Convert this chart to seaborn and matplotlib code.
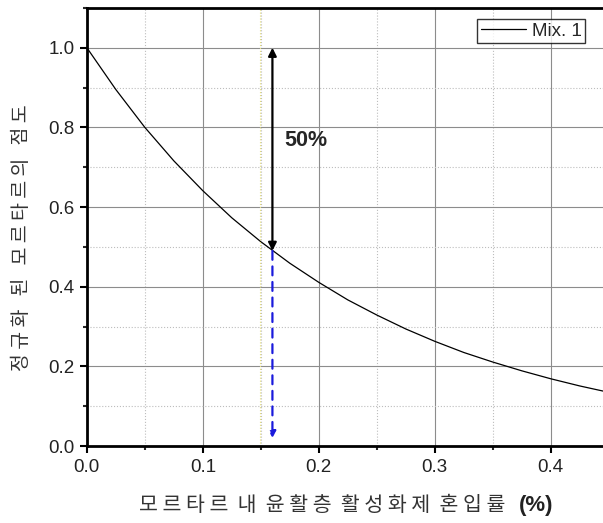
import numpy as np
import pandas as pd
import seaborn as sns
import matplotlib.pyplot as plt
from matplotlib.ticker import MultipleLocator

# values
x_vals = [0.0, 0.025, 0.05, 0.075, 0.1, 0.125, 0.15, 0.175, 0.2, 0.225,
          0.25, 0.275, 0.3, 0.325, 0.35, 0.375, 0.4, 0.425, 0.45]
y_vals = [1.0, 0.895, 0.80, 0.716, 0.641, 0.573, 0.513, 0.459, 0.411, 0.367,
          0.329, 0.294, 0.263, 0.235, 0.211, 0.189, 0.169, 0.151, 0.135]
series_name = "Mix. 1"

mark_x = 0.16
mark_top = 1.0
mark_mid = 0.49
mark_bottom = 0.02
mark_label = "50%"

x_label = "모 르 타 르  내  윤 활 층  활 성 화 제  혼 입 률"
y_label = "정 규 화   된   모 르 타 르 의   점 도"

df = pd.DataFrame({"x": x_vals, "y": y_vals, "series": series_name})

sns.set_style("white")
plt.rcParams["font.family"] = ["Noto Sans CJK KR", "DejaVu Sans"]
num_font = ["Liberation Sans", "DejaVu Sans"]

fig = plt.figure(figsize=(6.03, 5.23), dpi=100)
ax = fig.add_axes([0.144, 0.147, 0.856, 0.838])

sns.lineplot(data=df, x="x", y="y", hue="series", palette=["black"],
             linewidth=0.9, ax=ax)

ax.set_xlim(0, 0.445)
ax.set_ylim(0, 1.1)
ax.xaxis.set_major_locator(MultipleLocator(0.1))
ax.xaxis.set_minor_locator(MultipleLocator(0.05))
ax.yaxis.set_major_locator(MultipleLocator(0.2))
ax.yaxis.set_minor_locator(MultipleLocator(0.1))
ax.grid(which="major", color="#8c8c8c", linewidth=0.8)
ax.grid(which="minor", color="#bdbdbd", linewidth=0.8, linestyle=":")
ax.set_axisbelow(True)

for s in ["left", "bottom", "top"]:
    ax.spines[s].set_linewidth(2)
    ax.spines[s].set_color("black")
ax.spines["right"].set_visible(False)
ax.tick_params(which="major", direction="out", length=5, width=1.5,
               labelsize=13.5, pad=4, colors="black", left=True, bottom=True)
ax.tick_params(which="minor", direction="out", length=3, width=1.5,
               left=True, bottom=True)
for lab in ax.get_xticklabels() + ax.get_yticklabels():
    lab.set_color("#222222")
    lab.set_family(num_font)
ax.xaxis.set_major_formatter(plt.FormatStrFormatter("%.1f"))
ax.yaxis.set_major_formatter(plt.FormatStrFormatter("%.1f"))

# drop line
ax.axvline(0.149, color="#e6e07a", linewidth=0.8, linestyle=":")

# arrows
ax.annotate("", xy=(mark_x, mark_top), xytext=(mark_x, mark_mid),
            arrowprops=dict(arrowstyle="<|-|>", color="black", lw=1.6,
                            mutation_scale=12, shrinkA=0, shrinkB=0))
ax.annotate("", xy=(mark_x, mark_bottom), xytext=(mark_x, mark_mid),
            arrowprops=dict(arrowstyle="-|>", color="#1a1adc", lw=1.6,
                            linestyle=(0, (4, 3)), mutation_scale=10,
                            shrinkA=0, shrinkB=0))
ax.text(0.1705, 0.767, mark_label, fontsize=15.5, fontweight="bold",
        family=num_font, va="center", ha="left")

ax.set_xlabel("")
ax.set_ylabel("")
fig.text(0.8375, 0.034, x_label, fontsize=14.8, color="#333333",
         ha="right", va="center")
fig.text(0.861, 0.034, "(%)", fontsize=16, color="#222222",
         fontweight="bold", ha="left", va="center", family=num_font)
fig.text(0.036, 0.545, y_label, fontsize=14, color="#333333",
         rotation=90, ha="center", va="center")

leg = ax.legend(loc="upper right", bbox_to_anchor=(0.966, 0.975),
                frameon=True, fancybox=False, fontsize=13.5, handlelength=2.4,
                borderpad=0.2, handletextpad=0.3, borderaxespad=0)
leg.get_frame().set_edgecolor("black")
leg.get_frame().set_linewidth(1)
for t in leg.get_texts():
    t.set_family(num_font)

fig.savefig("out.png", dpi=100)
